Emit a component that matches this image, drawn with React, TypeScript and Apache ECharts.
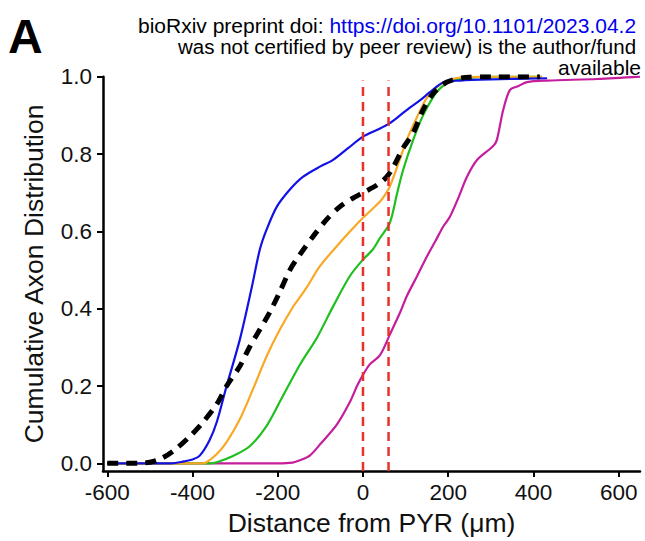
import React, { useEffect, useRef } from "react";
import * as echarts from "echarts";

const xTicks = [-600, -400, -200, 0, 200, 400, 600];
const yTicks = [0, 0.2, 0.4, 0.6, 0.8, 1.0];
const markerLines = [0, 60];

const blueSeries = [
  [-600, 0], [-450, 0], [-420, 0.005], [-400, 0.01], [-383, 0.02], [-360, 0.06], [-343, 0.107],
  [-320, 0.2], [-289, 0.32], [-261, 0.455], [-242, 0.553], [-226, 0.605], [-202, 0.664],
  [-170, 0.71], [-141, 0.741], [-100, 0.768], [-70, 0.785], [-35, 0.815], [0, 0.845],
  [40, 0.866], [63, 0.88], [87, 0.9], [110, 0.92], [135, 0.94], [157, 0.96], [188, 0.985],
  [228, 0.99], [300, 0.993], [432, 0.996],
];

const blackSeries = [
  [-600, 0], [-530, 0], [-500, 0.003], [-476, 0.011], [-445, 0.032], [-406, 0.07], [-375, 0.107],
  [-343, 0.153], [-320, 0.2], [-289, 0.251], [-265, 0.303], [-242, 0.346], [-218, 0.392],
  [-195, 0.444], [-171, 0.501], [-148, 0.54], [-117, 0.587], [-85, 0.631], [-54, 0.664],
  [-25, 0.685], [0, 0.7], [33, 0.72], [55, 0.74], [71, 0.766], [94, 0.815], [118, 0.855],
  [141, 0.914], [165, 0.957], [197, 0.986], [240, 0.998], [300, 1.0], [415, 1.0],
];

const orangeSeries = [
  [-600, 0], [-380, 0], [-367, 0.003], [-343, 0.024], [-320, 0.055], [-289, 0.114], [-258, 0.192],
  [-226, 0.277], [-195, 0.346], [-164, 0.405], [-148, 0.43], [-132, 0.455], [-101, 0.51],
  [-54, 0.571], [-20, 0.612], [0, 0.635], [40, 0.677], [55, 0.7], [63, 0.716], [80, 0.766],
  [103, 0.837], [127, 0.896], [150, 0.945], [181, 0.979], [228, 0.998], [300, 1.0], [420, 1.0],
];

const greenSeries = [
  [-600, 0], [-360, 0], [-343, 0.003], [-305, 0.019], [-265, 0.045], [-226, 0.097], [-188, 0.174],
  [-148, 0.255], [-108, 0.325], [-70, 0.406], [-31, 0.484], [0, 0.527], [23, 0.553], [40, 0.583],
  [63, 0.622], [80, 0.698], [94, 0.758], [118, 0.837], [141, 0.9], [165, 0.948], [181, 0.97],
  [210, 0.99], [250, 0.997], [300, 1.0], [420, 1.0],
];

const magentaSeries = [
  [-600, 0], [-200, 0], [-165, 0.002], [-148, 0.008], [-125, 0.02], [-100, 0.05], [-61, 0.101],
  [-31, 0.158], [-14, 0.2], [0, 0.229], [16, 0.256], [40, 0.28], [63, 0.333], [87, 0.39],
  [103, 0.433], [125, 0.48], [150, 0.535], [170, 0.575], [188, 0.612], [204, 0.638], [225, 0.69],
  [244, 0.741], [268, 0.785], [305, 0.82], [314, 0.836], [329, 0.914], [345, 0.966], [365, 0.976],
  [385, 0.986], [432, 0.99], [550, 0.994], [650, 1.0],
];

const FONT = "'Liberation Sans', Arial, Helvetica, sans-serif";

export default function App() {
  const ref = useRef<HTMLDivElement>(null);
  useEffect(() => {
    if (!ref.current) return;
    const chart = echarts.init(ref.current, null, { renderer: "svg" });
    const colored = (name: string, data: number[][], color: string) => ({
      name,
      type: "line",
      data,
      showSymbol: false,
      symbol: "none",
      smooth: 0.3,
      lineStyle: { color, width: 2.2 },
      z: 2,
    });
    const redLines = markerLines.map((v, i) => ({
      name: "marker" + i,
      type: "line",
      data: [[v, -0.02], [v, 0.99]],
      symbol: "none",
      lineStyle: { color: "#e8312c", width: 2.5, type: [9, 6] },
      z: 5,
    }));
    chart.setOption({
      animation: false,
      backgroundColor: "#ffffff",
      textStyle: { fontFamily: FONT },
      grid: { left: 103, right: 5, top: 76.7, bottom: 69, containLabel: false },
      xAxis: {
        type: "value",
        min: -610,
        max: 650,
        name: "Distance from PYR (μm)",
        nameLocation: "middle",
        nameGap: 37,
        nameTextStyle: { fontSize: 26.5, color: "#111", fontFamily: FONT },
        axisLine: { show: true, onZero: false, lineStyle: { color: "#000", width: 2.5 } },
        axisTick: { show: true, length: 6, lineStyle: { color: "#000", width: 2 }, customValues: xTicks },
        axisLabel: { fontSize: 22.5, color: "#111", margin: 10, fontFamily: FONT, customValues: xTicks },
        splitLine: { show: false },
      },
      yAxis: {
        type: "value",
        min: -0.02,
        max: 1.0,
        name: "Cumulative Axon Distribution",
        nameLocation: "middle",
        nameGap: 56,
        nameTextStyle: { fontSize: 26.5, color: "#111", fontFamily: FONT },
        axisLine: { show: true, onZero: false, lineStyle: { color: "#000", width: 2.5 } },
        axisTick: { show: true, length: 6, lineStyle: { color: "#000", width: 2 }, customValues: yTicks },
        axisLabel: {
          fontSize: 22.5,
          color: "#111",
          margin: 11,
          fontFamily: FONT,
          customValues: yTicks,
          formatter: (v: number) => v.toFixed(1),
        },
        splitLine: { show: false },
      },
      series: [
        colored("Magenta", magentaSeries, "#c41e9c"),
        colored("Green", greenSeries, "#1fbf1f"),
        colored("Orange", orangeSeries, "#f9a825"),
        colored("Blue", blueSeries, "#1212e6"),
        {
          name: "Average",
          type: "line",
          data: blackSeries,
          symbol: "none",
          smooth: 0.3,
          lineStyle: { color: "#000", width: 5, type: [11, 8] },
          z: 4,
        },
        ...redLines,
      ],
      graphic: [
        {
          type: "text",
          left: 8,
          top: 12,
          style: { text: "A", font: `bold 48px ${FONT}`, fill: "#000" },
        },
        {
          type: "text",
          x: 138,
          y: 25.5,
          style: {
            text: "{a|bioRxiv preprint doi: }{b|https://doi.org/10.1101/2023.04.2}",
            textVerticalAlign: "middle",
            rich: {
              a: { fontSize: 21, lineHeight: 19, fontFamily: FONT, fill: "#000", color: "#000" },
              b: { fontSize: 21, lineHeight: 19, fontFamily: FONT, fill: "#0000ee", color: "#0000ee" },
            },
          },
        },
        {
          type: "text",
          x: 178,
          y: 46.5,
          style: {
            text: "was not certified by peer review) is the author/fund",
            font: `20.5px ${FONT}`,
            fill: "#000",
            lineHeight: 19,
            textVerticalAlign: "middle",
          },
        },
        {
          type: "text",
          x: 641,
          y: 67.5,
          style: {
            text: "available",
            font: `21px ${FONT}`,
            fill: "#000",
            lineHeight: 19,
            textAlign: "right",
            textVerticalAlign: "middle",
          },
        },
      ],
    });
    return () => chart.dispose();
  }, []);
  return (
    <div
      ref={ref}
      style={{ position: "fixed", left: 0, top: 0, width: 645, height: 541, background: "#fff" }}
    />
  );
}
